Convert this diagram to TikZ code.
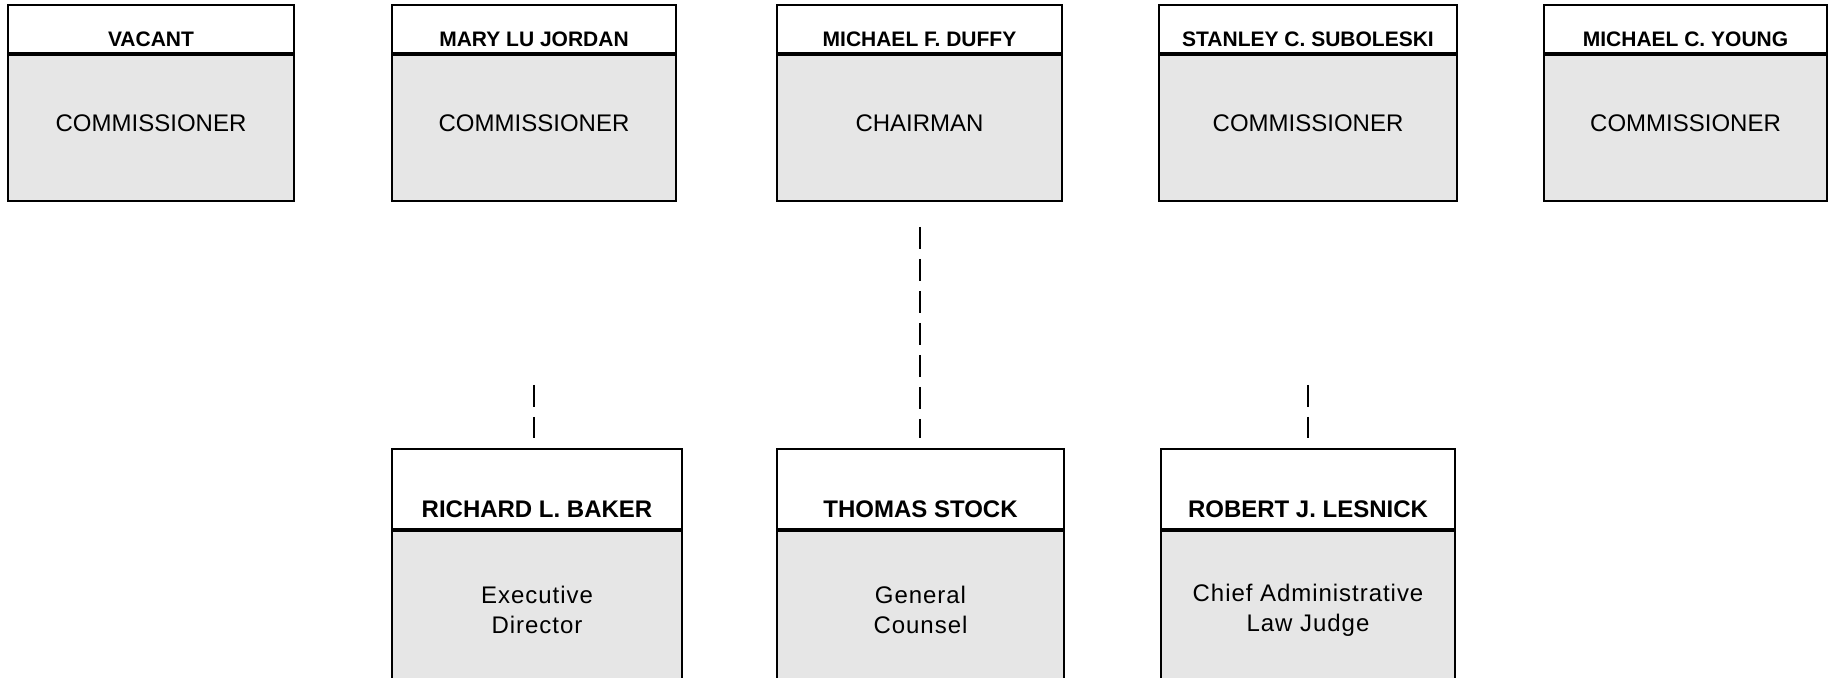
\documentclass[tikz,border=0pt]{standalone}
\usepackage{fontspec}
\setmainfont{Liberation Sans}
\newfontfamily\widesans[LetterSpace=4]{Liberation Sans}
\definecolor{boxgray}{HTML}{E6E6E6}
\tikzset{
  namebox/.style={draw, line width=1.4pt, fill=white, inner sep=0pt, outer sep=0pt, anchor=north west},
  topname/.style={namebox, font=\bfseries\fontsize{10.5}{12}\selectfont, minimum height=24.5pt, text height=21pt, text depth=3.5pt},
  lowname/.style={namebox, font=\bfseries\fontsize{12}{14}\selectfont, minimum height=40.5pt, text height=34pt, text depth=6.5pt},
  titlebox/.style={draw, line width=1.4pt, fill=boxgray, inner sep=0pt, outer sep=0pt, anchor=north},
  toptitle/.style={titlebox, font=\fontsize{12}{14}\selectfont, minimum height=73.5pt, text height=8.6pt, text depth=4.5pt},
  lowtitle/.style={titlebox, font=\widesans\fontsize{12}{15}\selectfont, align=center, minimum height=80pt},
  divider/.style={line width=2pt},
  dashline/.style={line width=1pt, dash pattern=on 11pt off 5pt}
}
\begin{document}
\begin{tikzpicture}[x=0.5pt, y=-0.5pt]
\clip (0,0) rectangle (1832,678);

% commissioners
\node[topname, minimum width=143pt] (vacH) at (8,5) {VACANT};
\node[toptitle, minimum width=143pt] (vacT) at (vacH.south) {COMMISSIONER};
\node[topname, minimum width=142pt] (jordanH) at (392,5) {MARY LU JORDAN};
\node[toptitle, minimum width=142pt] (jordanT) at (jordanH.south) {COMMISSIONER};
\node[topname, minimum width=142.5pt] (chairH) at (777,5) {MICHAEL F. DUFFY};
\node[toptitle, minimum width=142.5pt] (chairT) at (chairH.south) {CHAIRMAN};
\node[topname, minimum width=149pt] (subolH) at (1159,5) {STANLEY C. SUBOLESKI};
\node[toptitle, minimum width=149pt] (subolT) at (subolH.south) {COMMISSIONER};
\node[topname, minimum width=141.5pt] (youngH) at (1544,5) {MICHAEL C. YOUNG};
\node[toptitle, minimum width=141.5pt] (youngT) at (youngH.south) {COMMISSIONER};

% staff
\node[lowname, minimum width=145pt] (bakerH) at (392,449) {RICHARD L. BAKER};
\node[lowtitle, minimum width=145pt] (bakerT) at (bakerH.south) {Executive\\Director};
\node[lowname, minimum width=143.5pt] (stockH) at (777,449) {THOMAS STOCK};
\node[lowtitle, minimum width=143.5pt] (stockT) at (stockH.south) {General\\Counsel};
\node[lowname, minimum width=147pt] (lesnH) at (1161,449) {ROBERT J. LESNICK};
\node[lowtitle, minimum width=147pt] (lesnT) at (lesnH.south) {Chief Administrative\\Law Judge};

% thick rule under the names
\foreach \b in {vacH, jordanH, chairH, subolH, youngH, bakerH, stockH, lesnH}
  \draw[divider] (\b.south west) -- (\b.south east);

% dashed links
\coordinate (bakerTop) at (534,385);
\coordinate (lesnTop) at (1308,385);
\draw[dashline, shorten <=13pt, shorten >=5.5pt] (chairT.south) -- (chairT.south |- stockH.north);
\draw[dashline, shorten >=5.5pt] (bakerTop) -- (bakerTop |- bakerH.north);
\draw[dashline, shorten >=5.5pt] (lesnTop) -- (lesnTop |- lesnH.north);
\end{tikzpicture}
\end{document}
